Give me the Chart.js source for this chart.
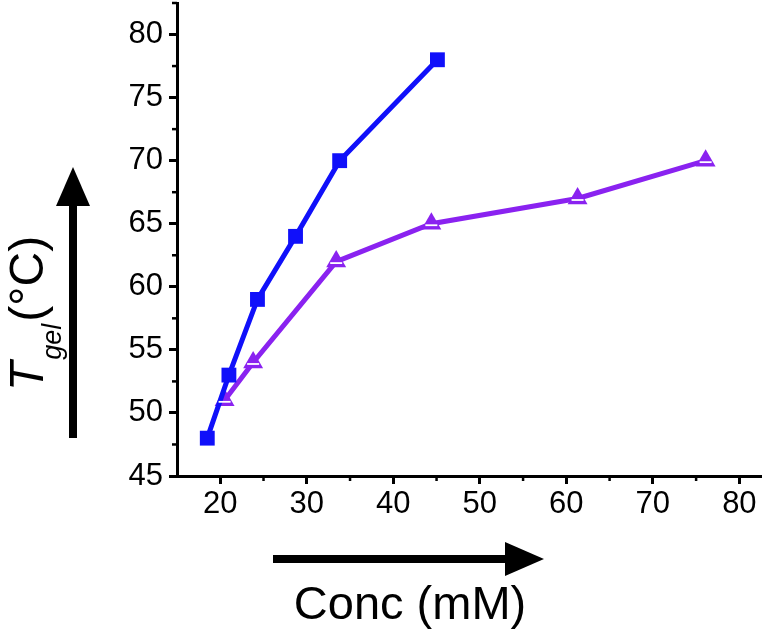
<!DOCTYPE html>
<html>
<head>
<meta charset="utf-8">
<script src="https://cdn.jsdelivr.net/npm/chart.js@4.4.1/dist/chart.umd.min.js"></script>
<style>
body { margin: 0; background: #fff; }
#wrap { width: 764px; height: 636px; position: relative; }
</style>
</head>
<body>
<div id="wrap"><canvas id="lineChart"></canvas></div>
<script>
// data
var concSquare = [18.5, 21.0, 24.3, 28.7, 33.8, 45.1];
var tgelSquare = [48, 53, 59, 64, 70, 78];
var concTriangle = [20.5, 23.8, 33.4, 44.4, 61.3, 76.1];
var tgelTriangle = [51, 54, 62, 65, 67, 70];

var xTicks = [20, 30, 40, 50, 60, 70, 80];
var yTicks = [45, 50, 55, 60, 65, 70, 75, 80];
var xMinor = [25, 35, 45, 55, 65, 75];
var yMinor = [47.5, 52.5, 57.5, 62.5, 67.5, 72.5, 77.5, 82.5];

var fontFam = "'Liberation Sans', Arial, sans-serif";

function pairs(xs, ys) {
    return xs.map(function(x, i) { return { x: x, y: ys[i] }; });
}

var extras = {
    id: 'extras',
    afterDatasetsDraw: function(chart) {
        var ctx = chart.ctx;
        // thin white stripe inside the triangles
        var meta = chart.getDatasetMeta(1);
        ctx.save();
        ctx.strokeStyle = '#fff';
        ctx.lineWidth = 1.8;
        meta.data.forEach(function(pt) {
            ctx.beginPath();
            ctx.moveTo(pt.x - 6, pt.y + 1.5);
            ctx.lineTo(pt.x + 6, pt.y + 1.5);
            ctx.stroke();
        });
        ctx.restore();
    },
    afterDraw: function(chart) {
        var ctx = chart.ctx;
        var xs = chart.scales.x, ys = chart.scales.y;
        var area = chart.chartArea;
        ctx.save();
        ctx.strokeStyle = '#000';
        ctx.fillStyle = '#000';
        // minor ticks
        ctx.lineWidth = 2.5;
        xMinor.forEach(function(v) {
            var px = xs.getPixelForValue(v);
            ctx.beginPath();
            ctx.moveTo(px, area.bottom);
            ctx.lineTo(px, area.bottom + 5);
            ctx.stroke();
        });
        yMinor.forEach(function(v) {
            var py = ys.getPixelForValue(v);
            ctx.beginPath();
            ctx.moveTo(area.left - 5, py);
            ctx.lineTo(area.left, py);
            ctx.stroke();
        });

        // horizontal arrow
        ctx.lineWidth = 8;
        ctx.beginPath();
        ctx.moveTo(273, 559);
        ctx.lineTo(510, 559);
        ctx.stroke();
        ctx.beginPath();
        ctx.moveTo(544, 559);
        ctx.lineTo(505, 542);
        ctx.lineTo(505, 576);
        ctx.closePath();
        ctx.fill();

        // vertical arrow
        ctx.beginPath();
        ctx.moveTo(73, 438);
        ctx.lineTo(73, 200);
        ctx.stroke();
        ctx.beginPath();
        ctx.moveTo(73, 167);
        ctx.lineTo(56, 206);
        ctx.lineTo(90, 206);
        ctx.closePath();
        ctx.fill();

        // x title
        ctx.font = '47px ' + fontFam;
        ctx.textAlign = 'center';
        ctx.textBaseline = 'alphabetic';
        ctx.fillText('Conc (mM)', 410, 619);

        // y title, rotated
        ctx.translate(43, 391);
        ctx.rotate(-Math.PI / 2);
        ctx.textAlign = 'left';
        ctx.font = 'italic 48px ' + fontFam;
        ctx.fillText('T', 0, 0);
        var w = ctx.measureText('T').width;
        ctx.font = 'italic 27px ' + fontFam;
        ctx.fillText('gel', w + 2, 18);
        var w2 = ctx.measureText('gel').width;
        ctx.font = '48px ' + fontFam;
        ctx.fillText('(\u00B0C)', w + w2 + 4, 0);
        ctx.restore();
    }
};

var lineCanvas = document.getElementById('lineChart').getContext('2d');
new Chart(lineCanvas, {
    type: 'line',
    data: {
        datasets: [{
            data: pairs(concSquare, tgelSquare),
            borderColor: '#1010fa',
            backgroundColor: '#1010fa',
            borderWidth: 5,
            pointStyle: 'rect',
            pointRadius: 10.5,
            pointBorderWidth: 0
        }, {
            data: pairs(concTriangle, tgelTriangle),
            borderColor: '#8a22f0',
            backgroundColor: '#8a22f0',
            borderWidth: 5,
            pointStyle: 'triangle',
            pointRadius: 11.5,
            pointBorderWidth: 0
        }]
    },
    options: {
        responsive: true,
        maintainAspectRatio: false,
        animation: false,
        layout: { autoPadding: false, padding: { top: 3, right: 3, left: 0, bottom: 0 } },
        plugins: {
            legend: { display: false },
            tooltip: { enabled: false },
            title: { display: false }
        },
        scales: {
            x: {
                type: 'linear',
                min: 15,
                max: 82.5,
                afterBuildTicks: function(s) { s.ticks = xTicks.map(function(v) { return { value: v }; }); },
                afterFit: function(s) { s.height = 160; s.paddingLeft = 0; s.paddingRight = 0; },
                grid: { drawOnChartArea: false, drawTicks: true, tickLength: 8, tickWidth: 3, tickColor: '#000' },
                border: { display: true, width: 3, color: '#000' },
                ticks: { color: '#000', font: { family: fontFam, size: 31 }, padding: 2, maxRotation: 0, autoSkip: false }
            },
            y: {
                min: 45,
                max: 82.5,
                afterBuildTicks: function(s) { s.ticks = yTicks.map(function(v) { return { value: v }; }); },
                afterFit: function(s) { s.width = 177; s.paddingTop = 0; s.paddingBottom = 0; },
                grid: { drawOnChartArea: false, drawTicks: true, tickLength: 8, tickWidth: 3, tickColor: '#000' },
                border: { display: true, width: 3, color: '#000' },
                ticks: { color: '#000', font: { family: fontFam, size: 31 }, padding: 6, autoSkip: false }
            }
        }
    },
    plugins: [extras]
});
</script>
</body>
</html>
